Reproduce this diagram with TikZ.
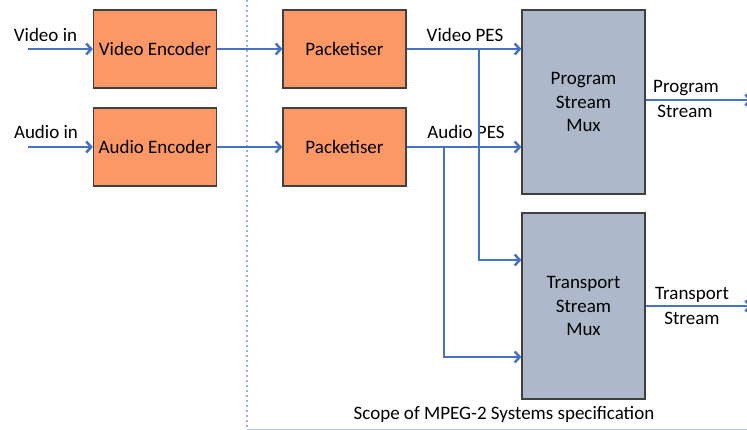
\documentclass[tikz,border=0pt]{standalone}
\usepackage{fontspec}
\setmainfont{Carlito}
\usetikzlibrary{arrows.meta}
\definecolor{encfill}{RGB}{252,152,102}
\definecolor{muxfill}{RGB}{173,185,202}
\definecolor{boxedge}{RGB}{64,64,64}
\definecolor{flow}{RGB}{68,114,196}
\definecolor{scopeline}{RGB}{150,178,224}
\begin{document}
\begin{tikzpicture}[x=1pt,y=-1pt,
  font=\fontsize{19}{23.5}\selectfont,
  encbox/.style={draw=boxedge,line width=1.2pt,fill=encfill,
    minimum width=123pt,minimum height=78pt,inner sep=0pt},
  muxbox/.style={draw=boxedge,line width=1.2pt,fill=muxfill,
    minimum width=123pt,inner sep=0pt,align=center},
  flowline/.style={draw=flow,line width=2.5pt,
    -{Straight Barb[length=5pt,width=11pt]}},
  lbl/.style={inner sep=0pt}]
\useasboundingbox (0,0) rectangle (747,430);

% scope boundary
\draw[scopeline,line width=1.3pt,dash pattern=on 2pt off 3pt] (247,0) -- (247,428);
\draw[scopeline!70,line width=0.9pt] (247,429) -- (747,429);

% encoders and packetisers
\node[encbox] (venc) at (155,49) {Video Encoder};
\node[encbox] (aenc) at (155,147) {Audio Encoder};
\node[encbox] (vpk) at (344.5,49) {Packetiser};
\node[encbox] (apk) at (344.5,147) {Packetiser};

% multiplexers
\node[muxbox,minimum height=184pt] (pmux) at (583.5,102) {Program\\Stream\\Mux};
\node[muxbox,minimum height=186pt] (tmux) at (583.5,306) {Transport\\Stream\\Mux};

% inputs
\coordinate (vin) at (28,49);
\coordinate (ain) at (28,147);
\node[lbl] at (45.5,35) {Video in};
\node[lbl] at (46,132) {Audio in};
\draw[flowline] (vin) -- (venc.west);
\draw[flowline] (ain) -- (aenc.west);

% encoder to packetiser
\draw[flowline] (venc.east) -- (vpk.west);
\draw[flowline] (aenc.east) -- (apk.west);

% PES to program stream mux
\draw[flowline] (vpk.east) -- (vpk.east -| pmux.west);
\draw[flowline] (apk.east) -- (apk.east -| pmux.west);
\node[lbl] at (465,35) {Video PES};
\node[lbl] at (466,132) {Audio PES};

% PES branches to transport stream mux
\coordinate (vbr) at (479,49);
\coordinate (abr) at (444,147);
\draw[flowline] (vbr) |- ([yshift=46pt]tmux.west);
\draw[flowline] (abr) |- ([yshift=-51pt]tmux.west);

% outputs
\coordinate (pout) at (752,100);
\coordinate (tout) at (752,306);
\draw[flowline] (pout -| pmux.east) -- (pout);
\draw[flowline] (tout -| tmux.east) -- (tout);
\node[lbl] at (686,88) {Program};
\node[lbl] at (685,111) {Stream};
\node[lbl] at (692,295) {Transport};
\node[lbl] at (692,318) {Stream};

\node[lbl] at (504,414) {Scope of MPEG-2 Systems specification};
\end{tikzpicture}
\end{document}
